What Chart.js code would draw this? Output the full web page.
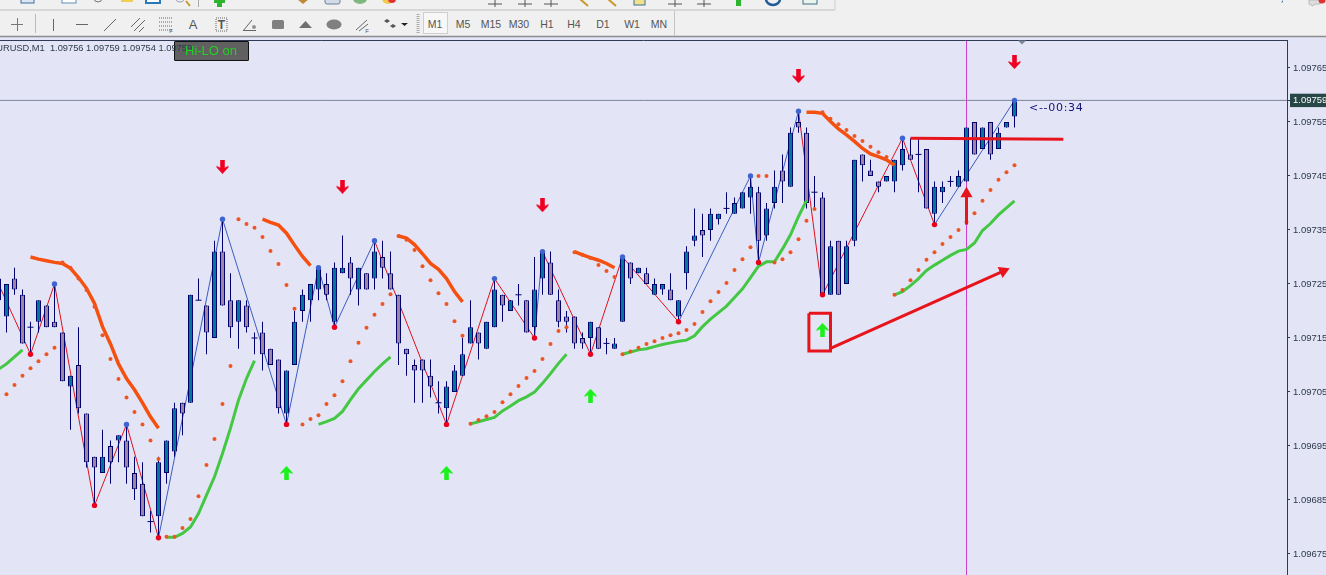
<!DOCTYPE html>
<html>
<head>
<meta charset="utf-8">
<title>EURUSD,M1</title>
<script src="https://cdn.jsdelivr.net/npm/chart.js@4"></script>
<style>
    html, body { margin: 0; padding: 0; background: #e3e5f7; overflow: hidden; }
    #wrap { position: relative; width: 1326px; height: 575px; overflow: hidden; }
    #chart { position: absolute; left: 0; top: 0; }
    #toolbar { position: absolute; left: 0; top: 0; }
    .label { position: absolute; white-space: pre; font-family: "Liberation Sans", sans-serif; }
    #hiloBox { left: 174px; top: 41px; width: 73px; height: 18px; background: #606060; border: 1px solid #111; border-radius: 1px; }
    #symbol { left: -10px; top: 42px; font-size: 9.3px; line-height: 12px; color: #2c3a48; }
    #hiloText { left: 185px; top: 43px; font-size: 13px; line-height: 16px; color: #22d022; }
    #countdown { left: 1029px; top: 101px; font-family: "DejaVu Sans", sans-serif; font-size: 11px; line-height: 14px; letter-spacing: 0.7px; color: #12127a; }
</style>
</head>
<body>
<div id="wrap">
    <canvas id="chart" width="1326" height="575"></canvas>

    <svg id="toolbar" width="1326" height="46" font-family="Liberation Sans, sans-serif">
        <rect x="0" y="0" width="1326" height="37" fill="#f0f0f0"/>
        <line x1="0" y1="36.5" x2="1326" y2="36.5" stroke="#8c8c8c" stroke-width="1.5"/>
        <line x1="0" y1="10" x2="835" y2="10" stroke="#cfcfcf" stroke-width="1.5"/>
        <line x1="835" y1="0" x2="835" y2="10" stroke="#cfcfcf"/>

        <!-- top row, only the bottom of the icons is visible -->
        <rect x="21" y="-6" width="13" height="9" fill="#dbe6f2" stroke="#3d6f9e"/>
        <rect x="62" y="-6" width="14" height="9" fill="#fff" stroke="#5d8fbf"/>
        <circle cx="98" cy="-2" r="4" fill="none" stroke="#777"/>
        <path d="M121 -2h12v4h-12z" fill="#f2cf52"/>
        <rect x="146" y="-6" width="14" height="9" fill="#fff" stroke="#2a78b8" stroke-width="2"/>
        <circle cx="180" cy="-3" r="5" fill="#eef" stroke="#99a"/>
        <line x1="186" y1="1" x2="190" y2="6" stroke="#c9982a" stroke-width="2"/>
        <line x1="198.5" y1="0" x2="198.5" y2="7" stroke="#aaa"/>
        <path d="M214 0h3v-4h5v4h3v3h-3v4h-5v-4h-3z" fill="#2cb52c"/>
        <path d="M297 -1h12l-6 5z" fill="#bc8a3a"/>
        <rect x="325" y="-4" width="15" height="8" rx="2" fill="#d3dbe8" stroke="#6d7f99"/>
        <ellipse cx="360" cy="-1" rx="7" ry="5" fill="#7eb87e"/>
        <circle cx="388" cy="-2" r="6" fill="#f2c94c"/>
        <circle cx="392" cy="-1" r="4" fill="#d33"/>
        <path d="M668 4h14M697 4h14M675 0v7M704 0v7" stroke="#555"/>
        <path d="M488 4h14M518 4h14M544 4h14M495 0v7M525 0v7M551 0v7" stroke="#555"/>
        <path d="M580 -1l8 7M608 -1l8 7" stroke="#c9982a" stroke-width="2"/>
        <rect x="634" y="-3" width="11" height="8" fill="#f2e08a" stroke="#3a6fa8"/>
        <path d="M733 -3h3v-3h5v3h3v3h-3v6h-5v-6h-3z" fill="#2cb52c"/>
        <path d="M766 -1a7 6 0 0 0 14 0" fill="none" stroke="#215a96" stroke-width="2.5"/>
        <rect x="803" y="-4" width="14" height="8" fill="#eaf4ea" stroke="#3a6f8a"/>
        <path d="M1283 0v2l-2 1z" fill="#3a66b0"/>
        <path d="M1309 0v4l4 2 2 -2h5l3 -4z" fill="#ddd" stroke="#bbb"/>
        <circle cx="1322" cy="0" r="3.5" fill="#d33"/>

        <!-- drawing tools -->
        <g stroke="#666" fill="none">
            <path d="M11 24.5h12M17.5 18v13" stroke="#777"/>
            <line x1="35.5" y1="14" x2="35.5" y2="33" stroke="#bbb"/>
            <line x1="53.5" y1="19" x2="53.5" y2="31"/>
            <line x1="76" y1="24.5" x2="88" y2="24.5"/>
            <line x1="104" y1="31" x2="116" y2="19"/>
            <path d="M131 27l9 -9M134 31l11 -11M139 32l5 -5"/>
            <path d="M159 18h13M159 22h13M159 26h13M159 30h13" stroke-dasharray="1 1"/>
            <rect x="216" y="18" width="11" height="13" stroke-dasharray="1 1"/>
            <path d="M243 31l9 -11M243 30.5h13"/>
            <rect x="253" y="26" width="2" height="2"/>
            <path d="M356 30l11 -10M359 31l9 -7"/>
        </g>
        <text x="193" y="29" font-size="13" fill="#555" text-anchor="middle">A</text>
        <text x="221.5" y="29" font-size="12" font-weight="bold" fill="#555" text-anchor="middle">T</text>
        <text x="171" y="33" font-size="6" fill="#555" text-anchor="middle">F</text>
        <text x="367" y="33" font-size="6" fill="#555" text-anchor="middle">F</text>
        <rect x="272" y="20" width="12" height="9" rx="1.5" fill="#808080"/>
        <path d="M299 28l6.5 -7 6.5 7z" fill="#707070"/>
        <ellipse cx="334" cy="24.5" rx="7.5" ry="5" fill="#808080"/>
        <path d="M384 21l3 -2 3 2 -3 2zM390 26l3 -2 3 2 -3 2z" fill="#555"/>
        <path d="M401 23h7l-3.5 3z" fill="#222"/>
        <path d="M418 14v20" stroke="#aaa" stroke-width="3" stroke-dasharray="1 1"/>

        <!-- timeframes -->
        <rect x="423.5" y="12.5" width="24" height="21" fill="#f7f7f7" stroke="#cfcfcf"/>
        <g font-size="10.5" fill="#555" text-anchor="middle">
            <text x="435" y="28">M1</text>
            <text x="463" y="28">M5</text>
            <text x="491" y="28">M15</text>
            <text x="519" y="28">M30</text>
            <text x="547" y="28">H1</text>
            <text x="574" y="28">H4</text>
            <text x="603" y="28">D1</text>
            <text x="632" y="28">W1</text>
            <text x="659" y="28">MN</text>
        </g>
        <line x1="674.5" y1="11" x2="674.5" y2="36" stroke="#c4c4c4"/>
        <path d="M1018 40.5h8l-4 4z" fill="#7c8794"/>
    </svg>

    <div id="hiloBox" class="label"></div>
    <div id="symbol" class="label">EURUSD,M1  1.09756 1.09759 1.09754 1.09759</div>
    <div id="hiloText" class="label">Hi-LO on</div>
    <div id="countdown" class="label">&lt;--00:34</div>
</div>

<script>
// All prices below are in points over 1.09000, so 755 means 1.09755
const PRICE_BASE = 1.09;
const POINT = 0.00001;
const toPrice = (p) => PRICE_BASE + p * POINT;

// Candles, first one is bar -1 which sits just off the left edge
const FIRST_BAR = -1;
const opens = [722,
    719,726,723,717,718,721,718,716,706,710,
    701,693,690,695,696,696,690,688,681,682,
    690,694,703,703,722,721,715,731,722,718,
    721,715,716,713,711,701,710,720,722,724,
    725,718,727,729,724,727,726,730,727,723,
    713,710,711,708,703,702,705,708,714,716,
    713,717,723,720,723,722,717,726,729,722,
    719,719,715,715,717,714,713,718,729,727,
    727,723,724,724,719,727,733,735,735,737,
    739,738,739,741,742,734,740,746,743,755,
    753,742,741,723,733,725,733,749,746,744,
    744,744,747,749,749,750,738,742,744,743,
    744,755,750,755,750,754,756];
const highs = [728,
    725,728,724,718,722,721,725,716,708,717,
    701,693,698,696,697,699,693,692,683,693,
    696,703,703,723,726,721,733,737,727,722,
    722,716,718,713,711,709,720,724,725,728,
    727,729,734,730,728,727,733,733,731,723,
    713,711,711,711,707,707,710,715,722,716,
    718,726,723,722,725,722,730,731,731,724,
    720,719,716,718,717,715,715,730,729,728,
    728,726,725,727,722,732,739,738,739,738,
    742,741,742,745,743,740,746,749,754,757,
    754,745,742,733,733,733,748,749,748,744,
    745,748,752,752,752,750,744,744,745,746,
    754,755,754,755,754,755,759];
const lows = [722,
    716,723,714,712,716,717,717,707,698,701,
    691,684,690,688,692,688,685,682,679,678,
    688,693,697,703,722,712,715,721,715,713,
    716,712,709,710,701,699,710,718,718,722,
    722,717,727,723,721,724,724,726,724,710,
    708,703,703,704,701,699,705,708,714,711,
    713,717,718,720,721,716,715,723,723,717,
    716,713,713,712,713,712,713,718,725,727,
    725,723,723,722,718,724,732,730,733,736,
    738,738,739,738,729,733,739,740,743,753,
    739,739,723,723,723,725,732,744,745,742,
    744,742,746,748,742,739,736,740,743,743,
    744,749,750,748,750,754,754];
const closes = [726,
    725,724,714,717,722,717,717,707,708,702,
    692,691,693,692,697,691,687,682,681,692,
    696,702,701,723,722,716,731,721,717,722,
    717,715,712,710,702,709,718,723,725,728,
    723,728,728,726,728,724,731,728,724,714,
    712,709,709,706,703,706,709,712,717,714,
    718,724,721,722,723,716,724,731,723,718,
    718,714,714,718,713,714,714,730,726,728,
    725,725,725,722,722,731,734,734,738,738,
    739,740,742,743,733,739,743,744,753,754,
    740,742,723,732,723,732,748,747,745,743,
    745,748,750,748,749,739,743,743,744,745,
    754,749,754,749,753,755,759];

// Zigzag vertices
const zigzagBars =   [-1,  3,  6, 11, 15, 19, 27, 35, 39, 41, 46, 55, 61, 66, 67, 73, 77, 84, 93, 94, 99,102,112,116,126];
const zigzagPoints = [725,712,725,684,699,678,737,699,728,717,733,699,726,715,731,712,730,718,745,729,757,723,752,736,759];
// colour of the leg that ends at each vertex, 'r' or 'b'
const zigzagLegs =   ['r','r','r','r','r','r','b','b','b','b','b','r','r','r','b','r','r','r','b','b','b','r','r','r','b'];

// Parabolic dots, one per bar starting at bar 0
const sarPoints = [
    704.6,706.3,708,709.4,710.7,712,713.2,729,728,726,
    723.9,720.8,715.5,711.1,707.4,704,701.3,699,696,692.6,
    678.2,678.2,679.8,681.5,685.7,691.5,696.3,702.8,709.8,737,
    736.1,735.4,733.7,731.1,728.7,724.8,720.4,699,700,700.7,
    702.8,704.4,707,710.7,714.1,716.9,719.3,721.3,723.1,733.9,
    733.2,731.3,728.3,725.7,723.3,721.3,718.1,715.4,699.1,699.8,
    700.5,701.3,703.1,704.6,706.1,707.6,708.9,711.1,713.9,716.3,
    717,730.9,730.4,729.8,728.5,727.4,726.3,712,712.5,713.2,
    713.9,714.4,715,715.5,715.9,716.5,717.6,719.8,721.8,723.5,
    725.2,727.6,729.6,731.8,745,745,729,729.6,730.9,733.3,
    736.7,738.9,756.8,755.6,754.6,753.5,752.4,751.5,750.4,749.4,
    748.5,723,723.9,725.7,727.6,729.5,730.9,732.4,733.7,735,
    736.5,738.1,740.4,742.4,744.3,745.7,747];

// Upper (orange) band runs: first bar, then one value per bar
const upperRuns = [
    [3, [730,729.6,729.3,729,728.8,727.9,726.2,724.2,721.4,717.1,713.9,710.2,707.5,705.4,703,700.4,698.3]],
    [32, [737,736.4,735.9,734.4,732.2,730.1,728.4]],
    [49, [733.9,733.5,732.3,730.6,728.8,727.7,726,723.6,721.7]],
    [71, [731,730.4,729.9,729.4,728.8,728]],
    [100, [756.8,756.8,756.6,755.1,753.7,752.6,751.4,750.1,749.1,748.6,748,747]],
];
// Lower (green) band runs
const lowerRuns = [
    [-1, [709.2,710.2,711.5,712.8]],
    [20, [678.1,678.1,678.8,680,682.5,685.9,689.3,693.6,698.3,703.5,707.5,710.8]],
    [39, [699,699.5,700.1,701.4,703.6,705.6,707.2,708.8,710.2,711.5]],
    [58, [699.1,699.5,699.9,700.3,701.5,702.4,703.4,704.1,705,706.6,708.4,710.3,712]],
    [77, [712,712.4,712.8,713,713.4,713.8,714.1,714.4,714.6,715.4,717.1,718.5,719.7,720.9,722.5,724.1,726.2,728.3,729.1,729.1,731.5,734.1,737.5,740.5]],
    [111, [723,723.6,724.7,726,727.5,728.5,729.4,730.3,731.1,731.4,732.6,734.9,736.2,737.8,739.1,740.4]],
];

// Signal arrows
const sellBars = [27, 42, 67, 99, 126];
const sellPoints = [746.7, 743, 739.6, 763.5, 766.1];
const buyBars = [35, 55, 73, 102];
const buyPoints = [690, 690, 704.3, 716.5];

// Lines drawn by hand on the chart
const boxBars = [100.3, 103, 103, 100.3, 100.3];
const boxPoints = [719.6, 719.6, 712.6, 712.6, 719.6];
const trendBars = [103, 124.6];
const trendPoints = [713.1, 727.4];
const riseBars = [120, 120];
const risePoints = [736, 741.7];
const flatBars = [113, 132.1];
const flatPoints = [752, 751.8];

// Terminal lines
const bidPoints = 759;
const sessionBar = 120;

// Axis
const yTicks = [765, 759, 755, 745, 735, 725, 715, 705, 695, 685, 675];
const yMinPoints = 671.11;
const yMaxPoints = 770.185;
const xMin = -0.8125;
const xMax = 160.0625;

const BULL = '#007896';
const BEAR = '#a0859f';
const EDGE = '#00006e';
const ORANGE = '#f5500f';
const GREEN = '#44c844';
const MARK_RED = '#e8141c';

const barIndex = (n) => n + FIRST_BAR;
const isDoji = (n) => opens[n] === closes[n];

const wickData = highs.map((h, n) => ({ x: barIndex(n), y: [toPrice(lows[n]), toPrice(h)] }));
const bodyData = [];
const bodyColors = [];
const dojiData = [];
opens.forEach((o, n) => {
    if (isDoji(n)) {
        dojiData.push({ x: barIndex(n), y: toPrice(o) });
    } else {
        bodyData.push({ x: barIndex(n), y: [toPrice(o), toPrice(closes[n])] });
        bodyColors.push(closes[n] > o ? BULL : BEAR);
    }
});

function pointsFrom(bars, values) {
    return bars.map((b, n) => ({ x: b, y: toPrice(values[n]) }));
}

function runsToPoints(runs) {
    const out = [];
    runs.forEach(([start, values]) => {
        values.forEach((v, n) => out.push({ x: start + n, y: toPrice(v) }));
        out.push({ x: start + values.length, y: null });
    });
    return out;
}

// MT4 style arrow glyph, drawn pointing up and flipped for sell signals
function arrowGlyph(color, down) {
    const c = document.createElement('canvas');
    c.width = 13;
    c.height = 14;
    const g = c.getContext('2d');
    if (down) {
        g.translate(0, 14);
        g.scale(1, -1);
    }
    g.fillStyle = color;
    g.beginPath();
    g.moveTo(6.5, 0);
    g.lineTo(12.5, 6.5);
    g.lineTo(12.5, 8);
    g.lineTo(8.8, 6.2);
    g.lineTo(8.8, 14);
    g.lineTo(4.2, 14);
    g.lineTo(4.2, 6.2);
    g.lineTo(0.5, 8);
    g.lineTo(0.5, 6.5);
    g.closePath();
    g.fill();
    return c;
}

const chartFrame = {
    id: 'chartFrame',
    afterDraw(chart) {
        const { ctx, chartArea } = chart;
        ctx.save();
        ctx.strokeStyle = '#2f3a55';
        ctx.lineWidth = 1;
        ctx.beginPath();
        ctx.moveTo(0, chartArea.top + 0.5);
        ctx.lineTo(chartArea.right, chartArea.top + 0.5);
        ctx.stroke();
        ctx.restore();
    }
};

function handLine(data, rotation, width) {
    return {
        type: 'line',
        data: data,
        borderColor: MARK_RED,
        borderWidth: width,
        pointStyle: 'triangle',
        pointRadius: data.map((d, n) => (rotation !== null && n === data.length - 1 ? 7 : 0)),
        pointRotation: rotation === null ? 0 : rotation,
        pointBackgroundColor: MARK_RED,
        pointBorderWidth: 0,
        tension: 0,
        order: 1,
    };
}

new Chart(document.getElementById('chart').getContext('2d'), {
    type: 'bar',
    data: {
        datasets: [
            { type: 'line', data: [{ x: xMin, y: toPrice(bidPoints) }, { x: xMax, y: toPrice(bidPoints) }], borderColor: '#7c8699', borderWidth: 1, pointRadius: 0, order: 12 },
            { type: 'line', data: [{ x: sessionBar, y: toPrice(yMinPoints) }, { x: sessionBar, y: toPrice(yMaxPoints) }], borderColor: '#cc3fcc', borderWidth: 1, pointRadius: 0, order: 11 },
            {
                type: 'line',
                data: pointsFrom(zigzagBars, zigzagPoints),
                borderWidth: 1,
                pointRadius: 0,
                tension: 0,
                order: 10,
                segment: {
                    borderColor: (ctx) => (zigzagLegs[ctx.p1DataIndex] === 'r' ? '#e0101c' : '#3a5cc0'),
                },
            },
            { data: wickData, backgroundColor: EDGE, barThickness: 1, inflateAmount: 0, order: 9 },
            {
                data: bodyData,
                backgroundColor: bodyColors,
                borderColor: EDGE,
                borderWidth: 1,
                borderSkipped: false,
                barThickness: 5,
                inflateAmount: 0,
                order: 8,
            },
            { type: 'line', data: dojiData, showLine: false, pointStyle: 'line', pointRadius: 3, pointBorderColor: EDGE, pointBorderWidth: 1, order: 7 },
            { type: 'line', data: runsToPoints(upperRuns), borderColor: ORANGE, borderWidth: 3.5, pointRadius: 0, tension: 0, order: 6 },
            { type: 'line', data: runsToPoints(lowerRuns), borderColor: GREEN, borderWidth: 3, pointRadius: 0, tension: 0, order: 6 },
            {
                type: 'line',
                data: sarPoints.map((v, n) => ({ x: n, y: toPrice(v) })),
                showLine: false,
                pointRadius: 2,
                pointBackgroundColor: '#ee5522',
                pointBorderWidth: 0,
                order: 5,
            },
            {
                type: 'line',
                data: pointsFrom(zigzagBars, zigzagPoints).slice(1),
                showLine: false,
                pointRadius: 2.7,
                pointBorderWidth: 0,
                pointBackgroundColor: zigzagBars.slice(1).map((b, n) => (zigzagPoints[n + 1] > zigzagPoints[n] ? '#3f63cf' : '#e8001c')),
                order: 4,
            },
            { type: 'line', data: pointsFrom(sellBars, sellPoints), showLine: false, pointStyle: arrowGlyph('#f00020', true), order: 3 },
            { type: 'line', data: pointsFrom(buyBars, buyPoints), showLine: false, pointStyle: arrowGlyph('#1cf01c', false), order: 3 },
            handLine(pointsFrom(boxBars, boxPoints), null, 3),
            handLine(pointsFrom(trendBars, trendPoints), 66, 3),
            handLine(pointsFrom(riseBars, risePoints), 0, 3),
            handLine(pointsFrom(flatBars, flatPoints), null, 3),
        ],
    },
    options: {
        responsive: false,
        animation: false,
        events: [],
        layout: { autoPadding: false, padding: { top: 40, left: 0, right: 0, bottom: 0 } },
        datasets: { bar: { grouped: false } },
        plugins: { legend: { display: false }, tooltip: { enabled: false } },
        scales: {
            x: {
                type: 'linear',
                min: xMin,
                max: xMax,
                offset: false,
                display: false,
            },
            y: {
                position: 'right',
                min: toPrice(yMinPoints),
                max: toPrice(yMaxPoints),
                grid: { drawOnChartArea: false, tickLength: 3, color: '#2f3a55' },
                border: { color: '#2f3a55', width: 1 },
                afterBuildTicks: (scale) => { scale.ticks = yTicks.map((p) => ({ value: toPrice(p) })); },
                afterFit: (scale) => {
                    scale.width = 39;
                    scale.paddingTop = 0;
                    scale.paddingBottom = 0;
                },
                ticks: {
                    autoSkip: false,
                    padding: 3,
                    font: { family: 'Liberation Sans', size: 9.5 },
                    color: (ctx) => (Math.abs(ctx.tick.value - toPrice(bidPoints)) < POINT / 2 ? '#ffffff' : '#2c3a48'),
                    showLabelBackdrop: (ctx) => Math.abs(ctx.tick.value - toPrice(bidPoints)) < POINT / 2,
                    backdropColor: '#274646',
                    backdropPadding: { x: 3, y: 1 },
                    callback: (value) => value.toFixed(5),
                },
            },
        },
    },
    plugins: [chartFrame],
});
</script>
</body>
</html>
